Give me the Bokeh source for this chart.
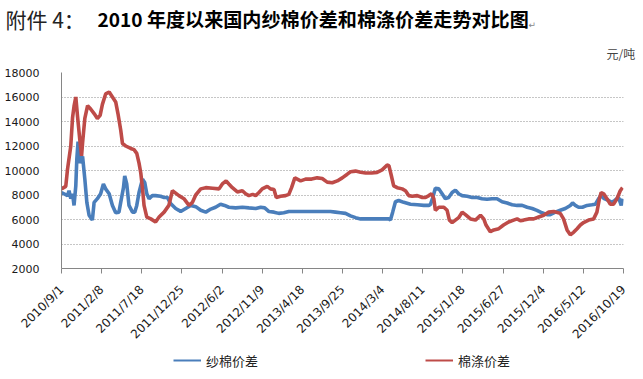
from math import pi
import pandas as pd
from bokeh.plotting import figure
from bokeh.layouts import column
from bokeh.models import Range1d, FixedTicker, Legend, LegendItem
from bokeh.core.properties import value
from bokeh.embed import file_html
from bokeh.resources import INLINE

start_date = "2010/9/1"
tick_labels = ["2010/9/1", "2011/2/8", "2011/7/18", "2011/12/25", "2012/6/2",
               "2012/11/9", "2013/4/18", "2013/9/25", "2014/3/4", "2014/8/11",
               "2015/1/18", "2015/6/27", "2015/12/4", "2016/5/12", "2016/10/19"]
y_ticks = [2000, 4000, 6000, 8000, 10000, 12000, 14000, 16000, 18000]

# 纱棉价差 (days since 2010/9/1, 元/吨)
blue_days = [0, 10, 24, 30, 37, 44, 50, 57, 61, 66,
             74, 84, 93, 101, 110, 123, 130, 143, 156, 167,
             176, 190, 203, 216, 229, 236, 247, 252, 260, 269,
             283, 292, 300, 309, 323, 332, 340, 349, 362, 375,
             395, 407, 422, 435, 455, 468, 475, 495, 515, 535,
             555, 575, 595, 614, 634, 650, 667, 694, 721, 747,
             774, 794, 810, 827, 847, 866, 886, 906, 953, 1013,
             1072, 1092, 1112, 1132, 1152, 1172, 1192, 1252, 1305, 1311,
             1320, 1331, 1344, 1364, 1391, 1418, 1444, 1464, 1471, 1480,
             1490, 1504, 1517, 1530, 1543, 1557, 1570, 1583, 1597, 1617,
             1637, 1657, 1676, 1696, 1716, 1736, 1756, 1776, 1796, 1816,
             1836, 1856, 1876, 1895, 1915, 1935, 1948, 1968, 1988, 2008,
             2028, 2037, 2048, 2061, 2076, 2095, 2114, 2128, 2141, 2151,
             2163, 2181, 2194, 2205, 2220, 2231, 2236]
blue_vals = [8200, 8100, 7950, 8350, 7700, 8100, 7150, 8750, 10900, 12350,
             10600, 11150, 9300, 7400, 6350, 5950, 7400, 7700, 8100, 8900,
             8500, 8100, 7150, 6550, 6600, 7400, 8600, 9550, 8900, 7150,
             6600, 6600, 7150, 8200, 9300, 9000, 8100, 7700, 7950, 7950,
             7900, 7800, 7800, 7300, 6900, 6750, 6650, 6900, 7150, 7050,
             6750, 6600, 6850, 7000, 7250, 7150, 7000, 6950, 7000, 6950,
             6900, 7000, 6950, 6650, 6600, 6500, 6550, 6650, 6650, 6650,
             6650, 6600, 6550, 6500, 6300, 6150, 6050, 6050, 6050, 5950,
             6600, 7450, 7550, 7400, 7250, 7200, 7150, 7150, 7250, 7800,
             8550, 8500, 8100, 7700, 7800, 8200, 8400, 8100, 7950, 7900,
             7800, 7800, 7700, 7650, 7700, 7700, 7450, 7350, 7200, 7150,
             7150, 7000, 6900, 6750, 6550, 6400, 6400, 6600, 6750, 6900,
             7150, 7350, 7150, 7000, 7000, 7150, 7200, 7250, 7700, 7950,
             7700, 7550, 7400, 7550, 7800, 7150, 7700]

# 棉涤价差 (days since 2010/9/1, 元/吨)
red_days = [0, 17, 24, 37, 44, 50, 57, 64, 73, 80,
            84, 93, 104, 117, 130, 143, 154, 163, 176, 190,
            203, 216, 225, 236, 243, 256, 276, 289, 300, 309,
            316, 323, 329, 340, 356, 375, 389, 409, 428, 442,
            455, 468, 488, 508, 522, 535, 555, 575, 602, 628,
            641, 656, 667, 681, 701, 721, 734, 747, 762, 774,
            787, 800, 820, 833, 847, 856, 873, 893, 906, 917,
            930, 953, 973, 997, 1019, 1039, 1059, 1079, 1099, 1119,
            1139, 1152, 1172, 1192, 1212, 1236, 1258, 1278, 1298, 1305,
            1315, 1324, 1338, 1358, 1371, 1384, 1398, 1418, 1438, 1451,
            1464, 1475, 1484, 1490, 1504, 1524, 1537, 1546, 1557, 1570,
            1583, 1597, 1610, 1630, 1650, 1670, 1683, 1692, 1709, 1723,
            1743, 1762, 1782, 1802, 1816, 1829, 1842, 1862, 1882, 1902,
            1922, 1942, 1962, 1988, 2001, 2015, 2028, 2041, 2055, 2068,
            2081, 2101, 2121, 2134, 2144, 2151, 2161, 2174, 2187, 2200,
            2214, 2227, 2236]
red_vals = [8500, 8700, 10100, 12000, 14300, 15250, 16000, 14400, 12500, 11200,
            12250, 14250, 15300, 15000, 14650, 14250, 14500, 15400, 16250, 16400,
            16000, 15600, 14650, 13300, 12200, 12000, 11800, 11700, 11400, 10600,
            9800, 8500, 7150, 6200, 6050, 5800, 6200, 6600, 7150, 8350,
            8150, 7950, 7700, 7150, 7400, 8000, 8500, 8600, 8550, 8500,
            8900, 9150, 8900, 8600, 8250, 8350, 8100, 7950, 8050, 7950,
            8200, 8500, 8700, 8500, 8450, 7800, 7900, 7950, 8050, 8600,
            9400, 9150, 9300, 9300, 9400, 9350, 9050, 9000, 9150, 9400,
            9700, 9900, 9950, 9850, 9800, 9800, 9850, 10050, 10450, 10400,
            9550, 8750, 8600, 8500, 8350, 7950, 7900, 7950, 7800, 7800,
            7950, 8100, 7700, 6750, 7000, 7000, 6750, 5950, 5750, 5950,
            6150, 6600, 6400, 6050, 5950, 6350, 6050, 5550, 5000, 5150,
            5250, 5550, 5800, 5950, 6050, 5900, 5950, 6050, 6050, 6200,
            6350, 6600, 6650, 6500, 6050, 5150, 4750, 4950, 5250, 5550,
            5750, 5950, 6050, 6600, 7700, 8200, 8100, 7700, 7250, 7250,
            7700, 8350, 8600]

title_prefix = "附件  4："
title_main = "2010 年度以来国内纱棉价差和棉涤价差走势对比图"
unit_text = "元/吨"
series_names = ["纱棉价差", "棉涤价差"]

start = pd.to_datetime(start_date, format="%Y/%m/%d")
tick_days = [int((pd.to_datetime(t, format="%Y/%m/%d") - start).days) for t in tick_labels]

W = 643
H_TOP = 64
H_MAIN = 285
H_FOOT = 30

blue_color = "#4a7ebb"
red_color = "#be4b48"

# ---- header strip (title + unit) ----
head = figure(width=W, height=H_TOP, output_backend="svg", toolbar_location=None,
              x_range=Range1d(0, W), y_range=Range1d(0, H_TOP),
              x_axis_type=None, y_axis_type=None, min_border=0,
              min_border_left=0, min_border_right=0, min_border_top=0, min_border_bottom=0)
head.frame_align = False
head.outline_line_color = None
head.background_fill_color = "white"
head.border_fill_color = "white"
head.text(x=[5], y=[46], text=[title_prefix], text_font=value("Noto Sans CJK SC"),
          text_font_size=value("21px"), text_baseline="middle", text_color="#222222")
head.text(x=[97], y=[46], text=[title_main], text_font=value("Noto Sans CJK SC"),
          text_font_size=value("19.1px"), text_font_style="bold",
          text_baseline="middle", text_color="#000000")
head.text(x=[528], y=[40], text=["↵"], text_font=value("DejaVu Sans"),
          text_font_size=value("9px"), text_baseline="middle", text_color="#888888")
head.text(x=[606], y=[11], text=[unit_text], text_font=value("Noto Sans CJK SC"),
          text_font_size=value("12px"), text_baseline="middle", text_color="#444444")

# ---- main chart ----
p = figure(width=W, height=H_MAIN, output_backend="svg", toolbar_location=None,
           x_range=Range1d(0, tick_days[-1]), y_range=Range1d(y_ticks[0], y_ticks[-1]),
           min_border_left=61, min_border_right=20, min_border_top=8, min_border_bottom=78)
p.outline_line_color = None
p.background_fill_color = "white"
p.border_fill_color = "white"

p.xgrid.grid_line_color = None
p.ygrid.ticker = FixedTicker(ticks=y_ticks)
p.ygrid.grid_line_color = "#8c8c8c"
p.ygrid.grid_line_dash = "1 2"
p.ygrid.grid_line_width = 1

ax = p.xaxis[0]
ax.ticker = FixedTicker(ticks=tick_days)
ax.major_label_overrides = {d: t for d, t in zip(tick_days, tick_labels)}
ax.major_label_orientation = pi / 4
ax.major_tick_out = 5
ax.major_tick_in = 0
ax.minor_tick_line_color = None
ax.axis_line_color = "#868686"
ax.major_tick_line_color = "#868686"
ax.major_label_text_font = "DejaVu Sans"
ax.major_label_text_font_size = "12px"
ax.major_label_text_color = "#1a1a1a"
ax.major_label_standoff = 14

ay = p.yaxis[0]
ay.ticker = FixedTicker(ticks=y_ticks)
ay.major_tick_out = 0
ay.major_tick_in = 0
ay.minor_tick_line_color = None
ay.axis_line_color = "#868686"
ay.major_label_text_font = "DejaVu Sans"
ay.major_label_text_font_size = "11px"
ay.major_label_text_color = "#1a1a1a"
ay.major_label_standoff = 22

p.line(blue_days, blue_vals, line_color=blue_color, line_width=3.6)
p.line(red_days, red_vals, line_color=red_color, line_width=3.6)

# ---- footer strip (legend); series drawn here fall outside its view ----
foot = figure(width=W, height=H_FOOT, output_backend="svg", toolbar_location=None,
              x_range=Range1d(0, W), y_range=Range1d(0, H_FOOT),
              x_axis_type=None, y_axis_type=None, min_border=0,
              min_border_left=0, min_border_right=0, min_border_top=0, min_border_bottom=0)
foot.frame_align = False
foot.outline_line_color = None
foot.background_fill_color = "white"
foot.border_fill_color = "white"
lg_blue = foot.line(blue_days, blue_vals, line_color=blue_color, line_width=2)
lg_red = foot.line(red_days, red_vals, line_color=red_color, line_width=2)
legend = Legend(items=[LegendItem(label=series_names[0], renderers=[lg_blue]),
                       LegendItem(label=series_names[1], renderers=[lg_red])],
                orientation="horizontal", location=(173, 9), spacing=167,
                glyph_width=28, glyph_height=20, label_height=20, label_standoff=5,
                padding=0, margin=0, border_line_color=None, background_fill_alpha=0,
                label_text_font="Noto Sans CJK SC", label_text_font_size="13px",
                label_text_color="#222222")
foot.add_layout(legend)

layout = column(head, p, foot, spacing=0)
open("out.html", "w").write(file_html(layout, INLINE))
